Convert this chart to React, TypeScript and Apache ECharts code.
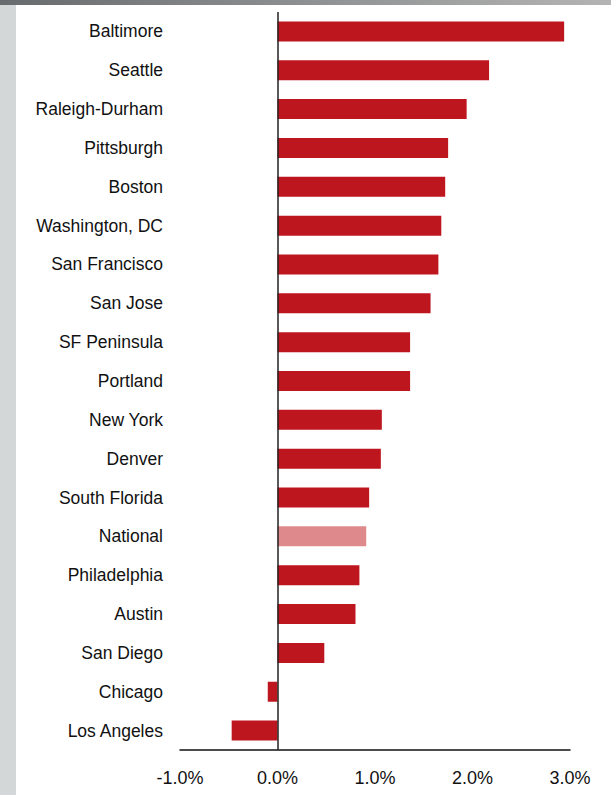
import React, { useEffect, useRef } from "react";
import * as echarts from "echarts";

const categories = [
  "Baltimore", "Seattle", "Raleigh-Durham", "Pittsburgh", "Boston",
  "Washington, DC", "San Francisco", "San Jose", "SF Peninsula", "Portland",
  "New York", "Denver", "South Florida", "National", "Philadelphia",
  "Austin", "San Diego", "Chicago", "Los Angeles",
];
const values = [
  2.94, 2.17, 1.94, 1.75, 1.72,
  1.68, 1.65, 1.57, 1.36, 1.36,
  1.07, 1.06, 0.94, 0.91, 0.84,
  0.80, 0.48, -0.10, -0.47,
];
const highlightCategory = "National";
const tickMin = -1;
const tickMax = 3;

export default function App() {
  const ref = useRef<HTMLDivElement>(null);
  useEffect(() => {
    document.body.style.margin = "0";
    const chart = echarts.init(ref.current!, null, { renderer: "svg" });
    chart.setOption({
      animation: false,
      backgroundColor: "#ffffff",
      textStyle: { fontFamily: "Liberation Sans" },
      graphic: [
        {
          type: "rect",
          shape: { x: 0, y: 0, width: 16, height: 795 },
          style: { fill: "#d3d7d7" },
          silent: true,
        },
        {
          type: "rect",
          shape: { x: 0, y: 0, width: 611, height: 5 },
          style: {
            fill: new echarts.graphic.LinearGradient(0, 0, 1, 0, [
              { offset: 0, color: "#686b6d" },
              { offset: 1, color: "#b4b4b4" },
            ]),
          },
          silent: true,
        },
      ],
      grid: { left: 180, right: 41, top: 12, bottom: 45, outerBoundsMode: "none" },
      xAxis: {
        type: "value",
        min: tickMin,
        max: tickMax,
        interval: 1,
        axisLine: { show: true, onZero: false, lineStyle: { color: "#111", width: 1.5 } },
        axisTick: { show: false },
        splitLine: { show: false },
        axisLabel: {
          margin: 19,
          fontSize: 18,
          color: "#111",
          fontFamily: "Liberation Sans",
          formatter: (v: number) => v.toFixed(1) + "%",
        },
      },
      yAxis: {
        type: "category",
        inverse: true,
        data: categories,
        axisLine: { show: false, onZero: false },
        axisTick: { show: false },
        splitLine: { show: false },
        axisLabel: { margin: 17, fontSize: 17.5, color: "#111", fontFamily: "Liberation Sans" },
      },
      series: [
        {
          type: "bar",
          data: values,
          barWidth: 20,
          itemStyle: {
            color: (p: any) => (categories[p.dataIndex] === highlightCategory ? "#de8a8d" : "#be161e"),
          },
          markLine: {
            silent: true,
            symbol: "none",
            label: { show: false },
            lineStyle: { color: "#222", width: 1.5, type: "solid" },
            data: [{ xAxis: 0 }],
          },
        },
      ],
    });
    return () => chart.dispose();
  }, []);
  return <div ref={ref} style={{ position: "absolute", left: 0, top: 0, width: 611, height: 795 }} />;
}
